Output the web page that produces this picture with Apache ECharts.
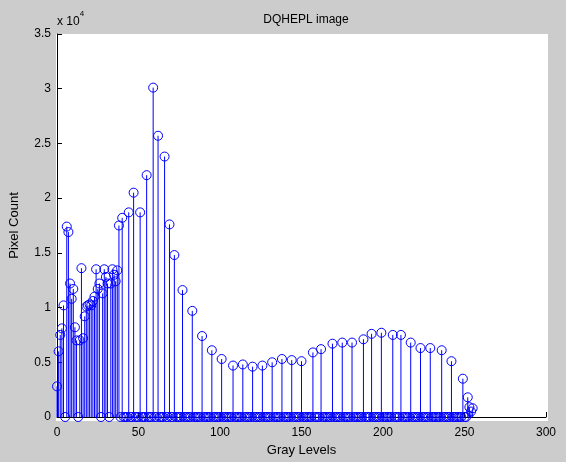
<!DOCTYPE html>
<html>
<head>
<meta charset="utf-8">
<script src="https://cdn.jsdelivr.net/npm/echarts@6/dist/echarts.min.js"></script>
<style>
html,body{margin:0;padding:0;background:#cccccc;}
#chart{width:566px;height:462px;}
</style>
</head>
<body>
<div id="chart"></div>
<script>
// Gray levels that have non-zero pixel counts
const grayLevels = [0,1,2,3,4,6,7,8,9,10,11,12,14,15,16,17,18,19,20,21,22,23,24,25,26,28,29,30,31,33,34,35,36,37,38,40,44,47,51,55,59,62,66,69,72,77,83,89,95,101,108,114,120,126,132,138,144,150,157,162,169,175,181,188,193,199,206,211,217,223,229,236,242,249,252,253,254,255];
const pixelCounts = [2800,6000,7500,8100,10200,17400,16900,12200,10800,11700,8200,7000,7000,13600,7200,9200,10100,10200,10300,10200,10600,11000,13500,11700,12200,11300,13500,12800,12200,12200,13500,13000,12400,13400,17500,18200,18700,20500,18700,22100,30100,25700,23800,17600,14800,11600,9700,7400,6100,5300,4700,4800,4600,4700,5000,5300,5200,5100,5900,6200,6700,6800,6800,7100,7600,7700,7500,7500,6800,6300,6300,6100,5100,3500,1800,900,500,800];
// number of histogram bins (0..255)
const binCount = 256;
const xTicks = [0,50,100,150,200,250,300];
const yTickLabels = ['0','0.5','1','1.5','2','2.5','3','3.5'];

const lookup = {};
grayLevels.forEach((g, i) => { lookup[g] = pixelCounts[i]; });
const histogram = [];
for (let g = 0; g < binCount; g++) histogram.push([g, lookup[g] || 0]);

const chart = echarts.init(document.getElementById('chart'));
const BLUE = '#0000ff';
const font = 'Liberation Sans, Arial, sans-serif';
chart.setOption({
  backgroundColor: '#cccccc',
  animation: false,
  title: {
    text: 'DQHEPL image', left: 301, top: 9, textAlign: 'center',
    textStyle: {fontFamily: font, fontSize: 12, fontWeight: 'normal', color: '#000'}
  },
  graphic: [
    {type: 'rect', shape: {x: 56, y: 34, width: 492, height: 387}, style: {fill: '#ffffff'}, z: -10, silent: true},
    {type: 'text', left: 57, top: 10, style: {
      text: '{a|x 10}{b|4}', fontFamily: font,
      rich: {a: {fontSize: 12, fontFamily: font, fill: '#000', padding: [6,0,0,0]}, b: {fontSize: 8, fontFamily: font, fill: '#000', verticalAlign: 'top'}}
    }}
  ],
  grid: {left: 56, right: 20, top: 34, bottom: 42, containLabel: false},
  xAxis: {
    type: 'value', min: 0, max: 300, interval: 50,
    name: 'Gray Levels', nameLocation: 'middle', nameGap: 27,
    nameTextStyle: {fontFamily: font, fontSize: 13, color: '#000'},
    axisLine: {show: true, onZero: false, lineStyle: {color: '#000', width: 1}},
    axisTick: {show: true, inside: true, length: 5, lineStyle: {color: '#000'}},
    axisLabel: {fontFamily: font, fontSize: 12, color: '#000', margin: 10},
    splitLine: {show: false}
  },
  yAxis: {
    type: 'value', min: 0, max: 35000, interval: 5000,
    name: 'Pixel Count', nameLocation: 'middle', nameGap: 36,
    nameTextStyle: {fontFamily: font, fontSize: 13, color: '#000'},
    axisLine: {show: true, lineStyle: {color: '#000', width: 1}},
    axisTick: {show: true, inside: true, length: 5, lineStyle: {color: '#000'}},
    axisLabel: {fontFamily: font, fontSize: 12, color: '#000', margin: 6,
      formatter: function (v) { return yTickLabels[Math.round(v / 5000)]; }},
    splitLine: {show: false}
  },
  series: [
    {
      type: 'custom',
      data: histogram,
      renderItem: function (params, api) {
        const top = api.coord([api.value(0), api.value(1)]);
        const base = api.coord([api.value(0), 0]);
        return {type: 'line', shape: {x1: top[0], y1: top[1], x2: base[0], y2: base[1]},
          style: {stroke: BLUE, lineWidth: 1}};
      },
      z: 2
    },
    {
      type: 'scatter',
      data: histogram,
      symbol: 'circle', symbolSize: 9,
      itemStyle: {color: 'rgba(0,0,0,0)', borderColor: BLUE, borderWidth: 1, opacity: 1},
      z: 3
    }
  ]
});
</script>
</body>
</html>
